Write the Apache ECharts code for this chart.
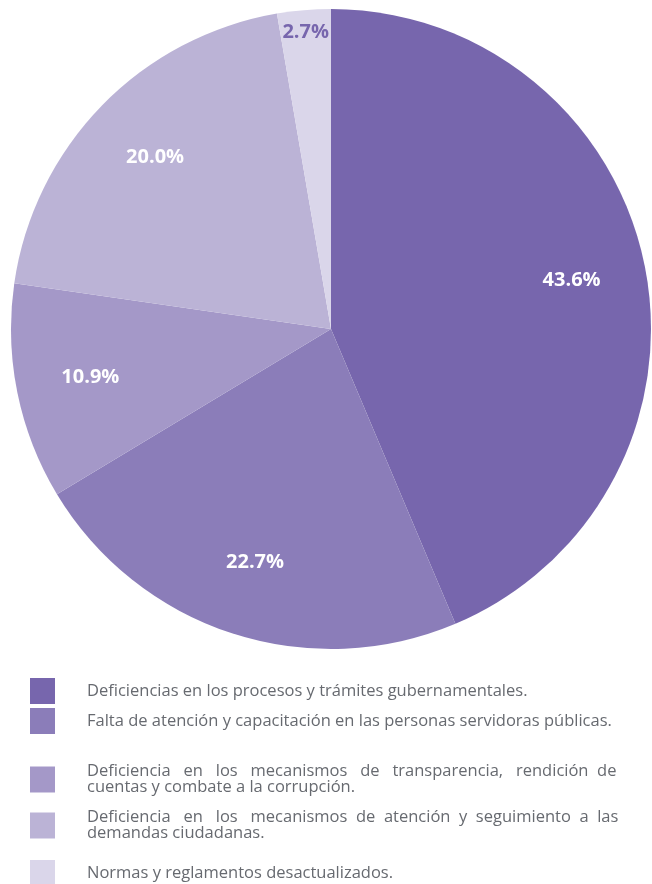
<!DOCTYPE html>
<html>
<head>
<meta charset="utf-8">
<style>
  html, body { margin: 0; padding: 0; background: #fff; }
  #chart { width: 652px; height: 884px; }
</style>
<script src="https://cdn.jsdelivr.net/npm/echarts@6/dist/echarts.min.js"></script>
</head>
<body>
<div id="chart"></div>
<script>
// categories and values
const categories = [
  'Deficiencias en los procesos y trámites gubernamentales.',
  'Falta de atención y capacitación en las personas servidoras públicas.',
  'Deficiencia en los mecanismos de transparencia, rendición de cuentas y combate a la corrupción.',
  'Deficiencia en los mecanismos de atención y seguimiento a las demandas ciudadanas.',
  'Normas y reglamentos desactualizados.'
];
// legend text, spaced by hand to imitate the justified lines
const legendLabels = [
  'Deficiencias en los procesos y trámites gubernamentales.',
  'Falta de atención y capacitación en las personas servidoras públicas.',
  'Deficiencia   en   los   mecanismos   de   transparencia,   rendición  de\ncuentas y combate a la corrupción.',
  'Deficiencia   en   los   mecanismos  de  atención  y  seguimiento  a  las\ndemandas ciudadanas.',
  'Normas y reglamentos desactualizados.'
];
const values = [43.6, 22.7, 10.9, 20.0, 2.7];
const colors = ['#7766ad', '#8b7db9', '#a498c8', '#bbb3d6', '#dad6ea'];

const chart = echarts.init(document.getElementById('chart'));

const center = [331, 329];
const pieData = categories.map((name, i) => ({
  name: name,
  value: values[i],
  itemStyle: { color: colors[i] }
}));

// label-only rings so the percentages sit further out than r/2
const labelData = (show) => categories.map((name, i) => ({
  name: name,
  value: values[i],
  label: { show: show(i) }
}));

const legendTops = [678, 708, 758, 804, 860];

const pctLabel = {
  position: 'inside',
  formatter: (p) => p.value.toFixed(1) + '%',
  fontFamily: 'Open Sans',
  fontWeight: 'bold',
  fontSize: 20
};

chart.setOption({
  animation: false,
  legend: legendLabels.map((lbl, i) => ({
    data: [categories[i]],
    left: 30,
    top: legendTops[i],
    padding: 0,
    itemWidth: 25,
    itemHeight: 26,
    icon: 'rect',
    selectedMode: false,
    formatter: () => lbl,
    textStyle: {
      fontFamily: 'Open Sans',
      fontSize: 16.5,
      color: '#676a70',
      lineHeight: 16,
      padding: lbl.indexOf('\n') >= 0 ? [11, 0, 0, 27] : [0, 0, 0, 27]
    }
  })),
  series: [
    {
      type: 'pie',
      center: center,
      radius: 320,
      startAngle: 90,
      clockwise: true,
      label: { show: false },
      labelLine: { show: false },
      emphasis: { disabled: true },
      data: pieData
    },
    {
      type: 'pie',
      center: center,
      radius: [165, 320],
      startAngle: 90,
      silent: true,
      itemStyle: { color: 'rgba(0,0,0,0)' },
      label: Object.assign({ color: '#fff' }, pctLabel),
      labelLine: { show: false },
      data: labelData((i) => values[i] > 5)
    },
    {
      type: 'pie',
      center: center,
      radius: [270, 320],
      startAngle: 90,
      silent: true,
      itemStyle: { color: 'rgba(0,0,0,0)' },
      label: Object.assign({ color: '#7766ad' }, pctLabel),
      labelLine: { show: false },
      data: labelData((i) => values[i] <= 5)
    }
  ]
});
</script>
</body>
</html>
